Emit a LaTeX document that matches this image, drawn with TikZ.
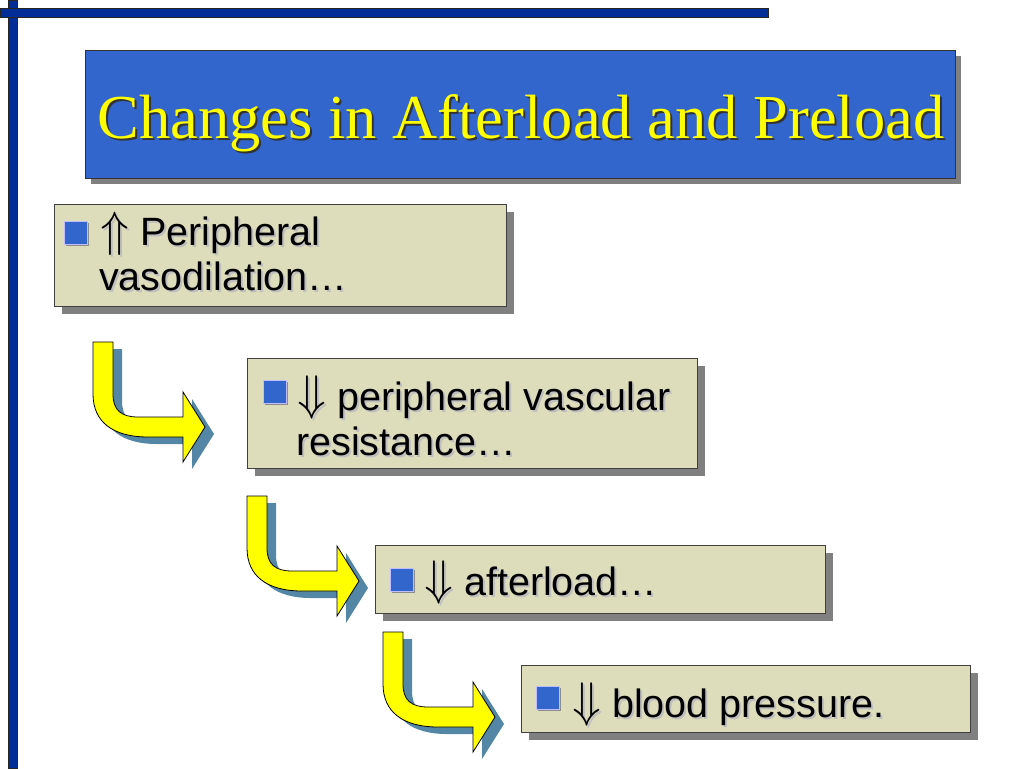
\documentclass[tikz,border=0pt]{standalone}
\usepackage{fontspec}
\usepackage{unicode-math}
\setmainfont{Liberation Serif}
\setsansfont{Liberation Sans}
\usetikzlibrary{positioning,shadows}

\definecolor{barblue}{RGB}{0,45,150}
\definecolor{titleblue}{RGB}{51,102,204}
\definecolor{boxbeige}{RGB}{221,221,187}
\definecolor{arrowyellow}{RGB}{255,255,0}
\definecolor{arrowshade}{RGB}{84,134,166}
\definecolor{boxshade}{RGB}{128,128,128}

% text with a small offset shadow behind it
\newcommand\shtext[2]{\rlap{\hspace{2pt}\raisebox{-2pt}{\color{#1}#2}}#2}
\newcommand\uparr{\scalebox{1.2}[1.25]{$\Uparrow$}}
\newcommand\dnarr{\scalebox{1.2}[1.25]{$\Downarrow$}}

\begin{document}
\begin{tikzpicture}[x=1pt,y=-1pt,
  bar/.style={fill=barblue,draw=black!85,line width=0.6pt},
  titlebox/.style={fill=titleblue,draw=black!80,line width=0.8pt,anchor=north west,inner sep=0pt,
    drop shadow={shadow xshift=6pt,shadow yshift=-6pt,fill=boxshade,opacity=1}},
  ttl/.style={font=\fontsize{62.5}{68}\selectfont,text=arrowyellow,inner sep=0pt,anchor=base},
  stepbox/.style={fill=boxbeige,draw=black!75,line width=0.8pt,anchor=north west,inner sep=0pt,
    drop shadow={shadow xshift=8pt,shadow yshift=-8pt,fill=boxshade,opacity=1}},
  txt/.style={font=\sffamily\fontsize{39.5}{46}\selectfont,inner sep=0pt,anchor=base west},
  bul/.style={fill=titleblue,draw=blue!25!white,line width=0.5pt,minimum size=23pt,inner sep=0pt,
    drop shadow={shadow xshift=1.5pt,shadow yshift=-1.5pt,fill=black!45,opacity=1}},
  bendarrow/.pic={
    \fill[arrowshade,shift={(9,7)}] (0,0) -- (20,0) -- (20,52) .. controls (20,68) and (28,75) .. (45,75)
      -- (90,75) -- (90,50) -- (112,85) -- (90,120) -- (90,95) -- (55,95)
      .. controls (20,95) and (0,80) .. (0,52) -- cycle;
    \filldraw[fill=arrowyellow,draw=black,line width=0.8pt,line join=miter] (0,0) -- (20,0) -- (20,52)
      .. controls (20,68) and (28,75) .. (45,75)
      -- (90,75) -- (90,50) -- (112,85) -- (90,120) -- (90,95) -- (55,95)
      .. controls (20,95) and (0,80) .. (0,52) -- cycle;
  }]
  \useasboundingbox (0,0) rectangle (1024,768);
  % ---------- slide frame ----------
  \draw[bar] (8,0) rectangle (17,768);
  \draw[bar] (0,8) rectangle (768,17);
  % ---------- title ----------
  \node[titlebox,minimum width=870pt,minimum height=128pt] (head) at (85,50) {};
  \node[ttl] (title) at (521,138) {\shtext{black!80}{Changes in Afterload and Preload}};
  % ---------- boxes ----------
  \node[stepbox,minimum width=452pt,minimum height=102pt] (b1) at (54,204) {};
  \node[stepbox,minimum width=450pt,minimum height=110pt] (b2) at (247,358) {};
  \node[stepbox,minimum width=450pt,minimum height=68pt] (b3) at (375,545) {};
  \node[stepbox,minimum width=449pt,minimum height=67pt] (b4) at (521,665) {};
  % ---------- bullets and text ----------
  \node[bul] (q1) at (76,233) {};
  \node[txt] (t1a) at (100,245) {\shtext{black!25}{\uparr{} Peripheral}};
  \node[txt] (t1b) at (99,290) {\shtext{black!25}{vasodilation…}};
  \node[bul] (q2) at (275,392) {};
  \node[txt] (t2a) at (297,410) {\shtext{black!25}{\dnarr{} peripheral vascular}};
  \node[txt] (t2b) at (296,455) {\shtext{black!25}{resistance…}};
  \node[bul] (q3) at (402,580) {};
  \node[txt] (t3) at (424,595) {\shtext{black!25}{\dnarr{} afterload…}};
  \node[bul] (q4) at (548,698) {};
  \node[txt] (t4) at (572,717) {\shtext{black!25}{\dnarr{} blood pressure.}};
  % ---------- bent arrows ----------
  \foreach \d [count=\n] in {0,154,290}
    \pic (arr\n) at ({93+\d},{342+\d}) {bendarrow};
\end{tikzpicture}
\end{document}
